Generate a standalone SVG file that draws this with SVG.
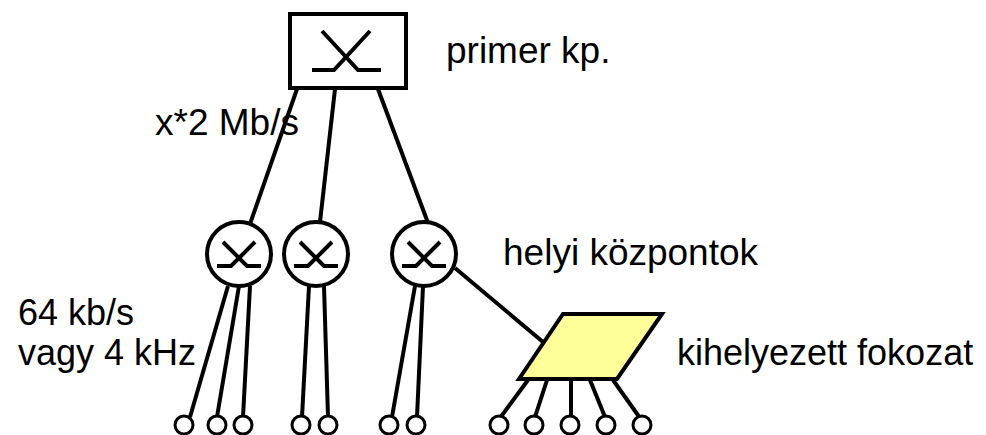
<svg xmlns="http://www.w3.org/2000/svg" width="986" height="435" viewBox="0 0 986 435">
<style>
.s{fill:none;stroke:#000;stroke-width:4;stroke-linejoin:miter}
.n{fill:#fff;stroke:#000;stroke-width:4}
.t{fill:#fff;stroke:#000;stroke-width:3}
.txt{font-family:"Liberation Sans",Arial,sans-serif;font-size:36px;fill:#000}
.b{font-size:37px}
</style>
<rect width="986" height="435" fill="#fff"/>
<g id="connectors" class="s">
<line x1="297" y1="89" x2="250" y2="224"/>
<line x1="335" y1="89" x2="320" y2="222"/>
<line x1="378" y1="89" x2="428" y2="223"/>
<line x1="455" y1="268" x2="543" y2="342"/>
<line x1="228" y1="286" x2="190" y2="417"/>
<line x1="239" y1="286" x2="217" y2="417"/>
<line x1="250" y1="286" x2="243" y2="417"/>
<line x1="309" y1="286" x2="302" y2="417"/>
<line x1="324" y1="286" x2="328" y2="417"/>
<line x1="415" y1="286" x2="392" y2="417"/>
<line x1="423" y1="286" x2="417" y2="417"/>
<line x1="528" y1="380" x2="500" y2="418"/>
<line x1="547" y1="380" x2="535" y2="417"/>
<line x1="571" y1="380" x2="571" y2="417"/>
<line x1="590" y1="380" x2="605" y2="417"/>
<line x1="613" y1="380" x2="640" y2="418"/>
</g>
<g id="primer">
<rect x="290" y="14" width="116" height="74" class="n"/>
<path class="s" d="M322 31 L358 70 L381 70 M370 31 L334 70 L312 70"/>
</g>
<g id="helyi1">
<circle cx="239" cy="254" r="32" class="n"/>
<path class="s" d="M223 242 L247 266 L261 266 M255 242 L231 266 L217 266"/>
</g>
<g id="helyi2">
<circle cx="316" cy="254" r="32" class="n"/>
<path class="s" d="M300 242 L324 266 L338 266 M332 242 L308 266 L294 266"/>
</g>
<g id="helyi3">
<circle cx="424" cy="254" r="32" class="n"/>
<path class="s" d="M408 242 L432 266 L446 266 M440 242 L416 266 L402 266"/>
</g>
<g id="kihelyezett">
<polygon points="563,314 662,314 617,379 519,379" fill="#ffff99" stroke="#000" stroke-width="4"/>
</g>
<g id="terminals">
<circle cx="184" cy="425" r="9" class="t"/>
<circle cx="217" cy="425" r="9" class="t"/>
<circle cx="243" cy="425" r="9" class="t"/>
<circle cx="301" cy="425" r="9" class="t"/>
<circle cx="328" cy="425" r="9" class="t"/>
<circle cx="389" cy="425" r="9" class="t"/>
<circle cx="416" cy="425" r="9" class="t"/>
<circle cx="499" cy="425" r="9" class="t"/>
<circle cx="534" cy="425" r="9" class="t"/>
<circle cx="570" cy="425" r="9" class="t"/>
<circle cx="606" cy="425" r="9" class="t"/>
<circle cx="642" cy="425" r="9" class="t"/>
</g>
<g id="labels" class="txt">
<text class="b" x="446" y="63">primer kp.</text>
<text class="b" x="155" y="135">x*2 Mb/s</text>
<text class="b" x="503" y="265">helyi központok</text>
<text x="18" y="325">64 kb/s</text>
<text x="18" y="365">vagy 4 kHz</text>
<text x="677" y="365">kihelyezett fokozat</text>
</g>
</svg>
